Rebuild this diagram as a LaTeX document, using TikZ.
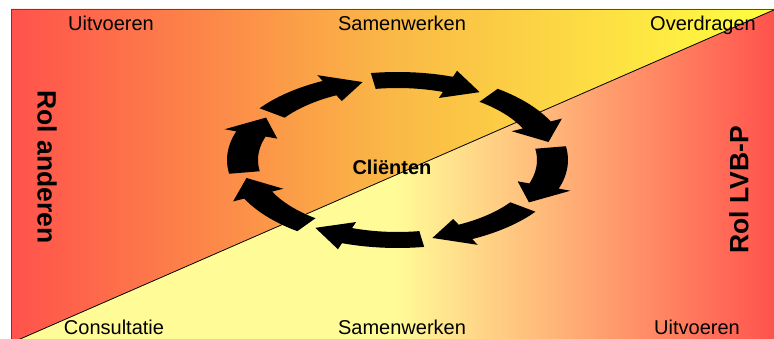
\documentclass[tikz,border=0pt]{standalone}
\usepackage{fontspec}
\setmainfont{Liberation Sans}
\definecolor{rolred}{RGB}{255,82,76}
\definecolor{rolorange}{RGB}{250,185,70}
\definecolor{rolyellow}{RGB}{255,255,64}
\definecolor{paleyellow}{RGB}{255,252,152}
\begin{document}
\begin{tikzpicture}[x=1pt,y=1pt,
    lbl/.style={font=\fontsize{20}{24}\selectfont, anchor=base, inner sep=0pt},
    rol/.style={font=\fontsize{26.5}{30}\selectfont\bfseries, inner sep=0pt},
    ringarrow/.style={fill=black}]
    \useasboundingbox (0,0) rectangle (774,339);

    % Upper left half: red to yellow
    \shade[left color=rolred, right color=rolyellow, middle color=rolorange]
        (11,-4) -- (11,330) -- (776,330) -- cycle;

    % Lower right half: pale yellow to red
    \shade[left color=paleyellow, right color=rolred, middle color=paleyellow]
        (11,-4) -- (776,330) -- (776,-4) -- cycle;

    % Frame and diagonal
    \draw[gray!60!black, line width=0.8] (11,-4) rectangle (776,330);
    \draw[line width=0.8] (11,-4) -- (776,330);

    % Ring of arrows round the clients
    \begin{scope}[shift={(397.5,179)}, x=155pt, y=80pt]
        \foreach \t in {144,99,54,9,-36,-81,-126,-171}{
            \pgfmathsetmacro\n{\t-28} % neck of the head
            \pgfmathsetmacro\h{\t-41} % tip of the head
            \fill[ringarrow] (\t:1.1) -- plot[domain=\t:\n, samples=12] (\x:1.1)
                -- (\n:1.18) -- (\h:1) -- (\n:0.82)
                -- plot[domain=\n:\t, samples=12] (\x:0.9) -- cycle;
        }
    \end{scope}

    % Centre label
    \node[font=\fontsize{20}{24}\selectfont\bfseries] (clienten) at (392,172) {Cliënten};

    % Top labels
    \node[lbl] (uitvoerenTop) at (111,308) {Uitvoeren};
    \node[lbl] (samenTop) at (402,308) {Samenwerken};
    \node[lbl] (overdragen) at (703,308) {Overdragen};

    % Bottom labels
    \node[lbl] (consultatie) at (114,4) {Consultatie};
    \node[lbl] (samenBottom) at (402,4) {Samenwerken};
    \node[lbl] (uitvoerenBottom) at (697,4) {Uitvoeren};

    % Side roles
    \node[rol, rotate=-90] (rolAnderen) at (47,172) {Rol anderen};
    \node[rol, rotate=90] (rolLVB) at (739,149) {Rol LVB-P};

\end{tikzpicture}
\end{document}
